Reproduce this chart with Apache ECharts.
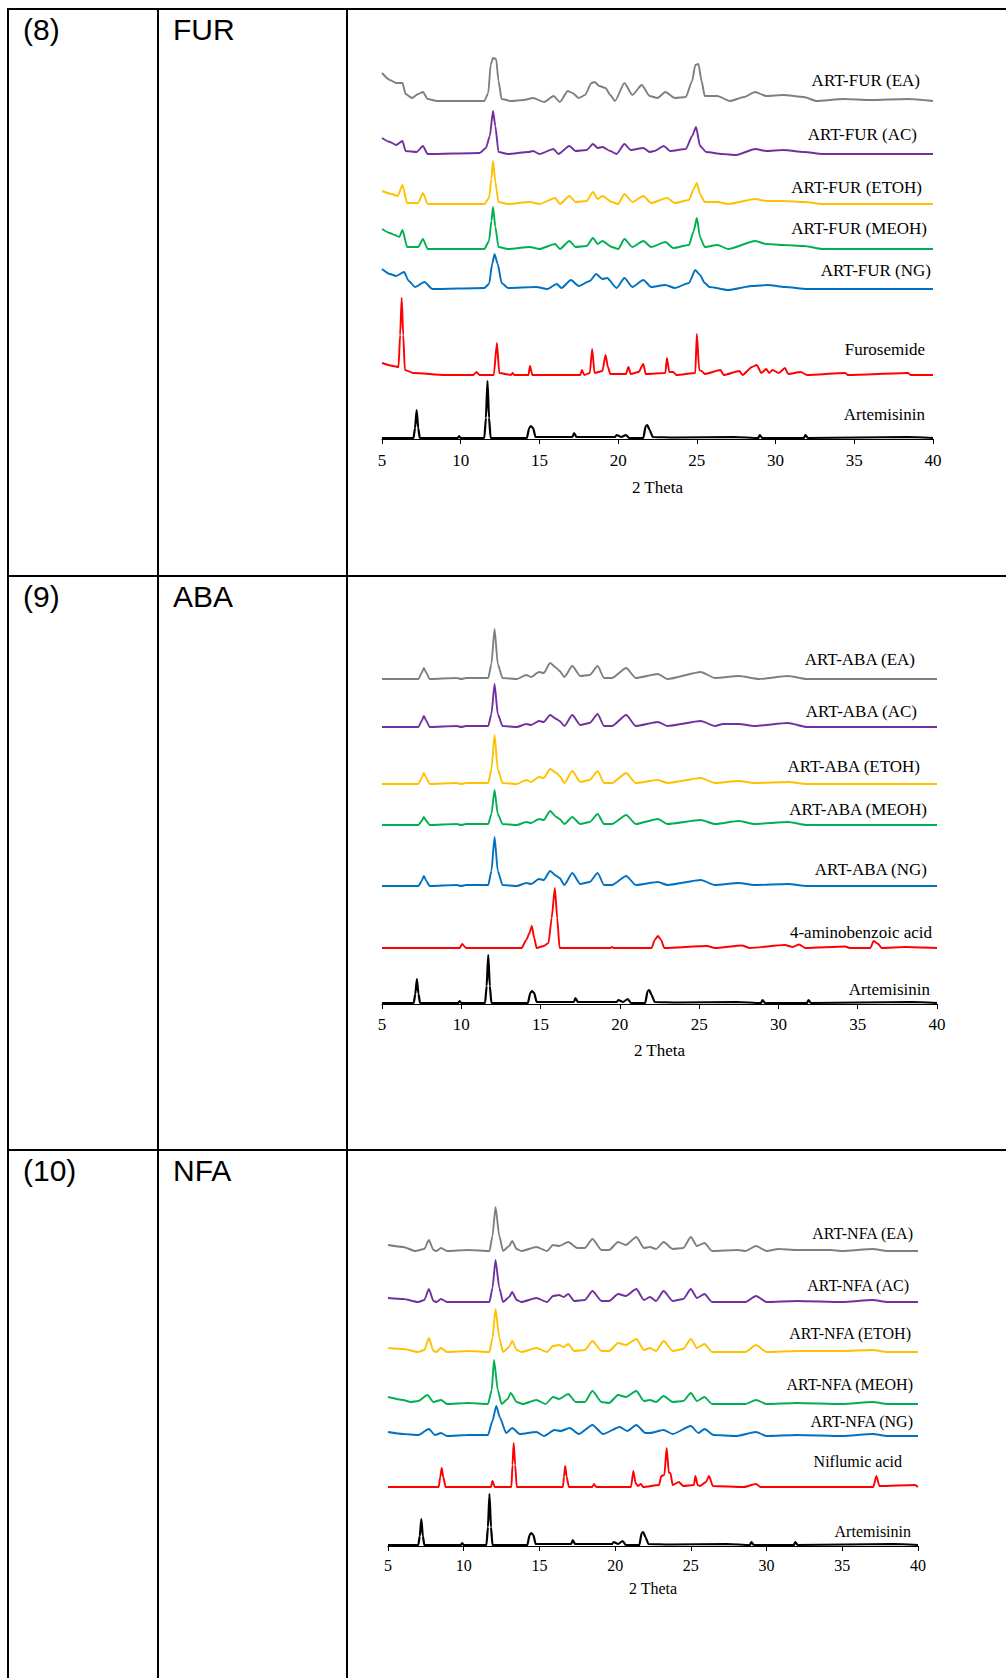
<!DOCTYPE html>
<html><head><meta charset="utf-8">
<script src="https://cdn.jsdelivr.net/npm/echarts@6/dist/echarts.min.js"></script>
<style>html,body{margin:0;padding:0;background:#fff}#c{width:1006px;height:1678px}</style>
</head><body><div id="c"></div>
<script>
// ---------- DATA: [2 theta, relative intensity] ----------
const xTicks = [5, 10, 15, 20, 25, 30, 35, 40];
const rowNumbers = ['(8)', '(9)', '(10)'];
const rowCodes = ['FUR', 'ABA', 'NFA'];

const furNames = ['ART-FUR (EA)', 'ART-FUR (AC)', 'ART-FUR (ETOH)', 'ART-FUR (MEOH)', 'ART-FUR (NG)', 'Furosemide', 'Artemisinin'];
const abaNames = ['ART-ABA (EA)', 'ART-ABA (AC)', 'ART-ABA (ETOH)', 'ART-ABA (MEOH)', 'ART-ABA (NG)', '4-aminobenzoic acid', 'Artemisinin'];
const nfaNames = ['ART-NFA (EA)', 'ART-NFA (AC)', 'ART-NFA (ETOH)', 'ART-NFA (MEOH)', 'ART-NFA (NG)', 'Niflumic acid', 'Artemisinin'];

const furEA = [[5,28],[5.5,21],[5.9,18],[6.3,18],[6.5,7],[6.9,3],[7.3,7],[7.6,9],[7.9,2],[8.5,0],[11.5,0],[11.75,8],[11.9,36],[12.05,43],[12.25,42],[12.4,20],[12.6,2],[13.2,0],[14,1],[14.6,3],[15.3,-1],[15.9,5],[16.3,-1],[16.8,10],[17.1,8],[17.5,3],[17.9,6],[18.3,18],[18.5,19],[18.8,15],[19.2,13],[19.5,6],[19.8,0],[20.4,18],[20.9,6],[21.5,16],[22.0,5],[22.5,3],[23.0,9],[23.6,3],[24.3,4],[24.7,20],[24.9,36],[25.1,37],[25.3,20],[25.5,5],[26.3,5],[27.1,0],[28.0,4],[28.7,9],[29.4,5],[30.5,6],[31.8,4],[32.6,0],[34.3,2],[36,1],[38.4,2],[40,0]];
const furAC = [[5,16],[5.5,12],[5.9,9],[6.3,13],[6.5,3],[7.2,2],[7.6,8],[7.9,0],[11.2,1],[11.6,6],[11.85,18],[12.05,43],[12.2,28],[12.4,2],[13,0],[14.3,2],[14.6,3],[15.0,0],[15.9,5],[16.2,0],[16.9,8],[17.3,3],[18.0,4],[18.4,10],[18.7,6],[19.0,7],[19.5,3],[19.9,0],[20.4,10],[20.8,4],[21.6,6],[22.0,2],[22.3,3],[22.9,8],[23.3,3],[24.3,5],[24.7,18],[24.95,27],[25.2,8],[25.6,2],[26.6,0],[27.5,-1],[28.7,5],[29.4,3],[30.5,4],[31.8,2],[33,0],[40,0]];
const furETOH = [[5,13],[5.6,10],[6.0,8],[6.3,19],[6.6,1],[7.3,1],[7.6,11],[7.9,0],[11.5,0],[11.8,6],[11.95,25],[12.05,43],[12.2,22],[12.4,2],[13,0],[14.4,2],[15,0],[16.0,6],[16.3,0],[16.9,8],[17.3,2],[18.0,3],[18.4,12],[18.7,5],[19.0,8],[19.6,2],[20.0,0],[20.4,10],[20.9,2],[21.6,8],[22.1,1],[23.1,6],[23.6,1],[24.5,4],[24.8,15],[25.0,21],[25.2,10],[25.5,2],[26.3,2],[27,0],[28.7,5],[29.4,3],[30.5,3],[31.8,2],[33,0],[40,0]];
const furMEOH = [[5,20],[5.5,16],[5.8,14],[6.1,12],[6.3,19],[6.6,2],[7.3,2],[7.6,10],[7.9,0],[11.5,0],[11.8,8],[11.95,28],[12.05,42],[12.2,22],[12.4,2],[13,0],[14.4,2],[15,0],[16.0,5],[16.3,0],[16.9,8],[17.3,2],[18.0,3],[18.4,11],[18.7,5],[19.0,8],[19.6,2],[20.0,0],[20.4,10],[20.9,2],[21.6,8],[22.1,2],[23.0,7],[23.5,1],[24.5,4],[24.8,18],[25.0,31],[25.2,12],[25.5,2],[26.3,4],[27,0],[28.7,8],[29.4,5],[30.5,4],[31.8,3],[33,0],[40,0]];
const furNG = [[5,20],[5.5,15],[5.9,13],[6.4,17],[6.7,8],[7.1,2],[7.7,7],[8.2,0],[11.5,1],[11.8,5],[12.0,25],[12.15,35],[12.35,25],[12.6,6],[13,1],[14.8,2],[15.5,0],[16.1,5],[16.4,1],[17.0,9],[17.5,3],[18.2,8],[18.6,15],[19.0,10],[19.3,11],[19.9,1],[20.4,11],[20.9,2],[21.6,9],[22.1,2],[23.0,4],[23.6,1],[24.5,6],[24.9,19],[25.2,14],[25.5,6],[25.8,2],[27.0,-1],[28.5,3],[29.5,4],[30.6,2],[32,0],[40,0]];
const furosemide = [[5,12],[5.7,9],[6.05,8],[6.15,40],[6.25,77],[6.35,40],[6.45,5],[7.0,2],[9,0],[10.8,0],[11.0,3],[11.2,0],[12.1,0],[12.3,32],[12.45,2],[13.2,0],[13.3,2],[13.4,0],[14.3,0],[14.4,9],[14.55,0],[17.6,0],[17.7,5],[17.85,0],[18.2,2],[18.35,26],[18.5,2],[19.0,4],[19.2,20],[19.35,8],[19.5,1],[20.5,1],[20.65,8],[20.8,1],[21.3,3],[21.6,11],[21.75,1],[23.0,2],[23.1,17],[23.25,3],[23.5,3],[23.7,0],[24.9,2],[25.0,41],[25.15,5],[25.3,4],[25.5,1],[26.5,5],[26.7,0],[27.7,4],[27.9,0],[28.5,8],[28.8,10],[29.1,2],[29.4,6],[29.6,2],[29.8,5],[30.2,2],[30.6,7],[30.8,1],[31.6,3],[32,0],[34.4,2],[34.6,0],[38.4,2],[38.6,0],[40,0]];
const artemisinin1 = [[5,0],[7.0,0],[7.1,10],[7.2,28],[7.3,10],[7.4,0],[9.8,0],[9.9,2],[10.0,0],[11.5,0],[11.6,20],[11.7,57],[11.8,20],[11.9,0],[14.2,0],[14.35,10],[14.45,12],[14.6,10],[14.75,1],[15.6,1],[16.6,1],[17.1,1],[17.2,5],[17.35,1],[18.2,1],[19.0,1],[19.8,1],[19.9,3],[20.2,1],[20.5,3],[20.7,0],[21.6,0],[21.75,12],[21.85,13],[22.0,8],[22.2,1],[23.6,0.5],[27.4,1],[28.9,0],[29.0,3],[29.15,0],[31.8,0],[31.9,3],[32.05,0],[38.4,1],[40,0]];

const abaEA = [[5,0],[7.3,0],[7.5,6],[7.64,11],[7.8,6],[8.0,0],[9.7,1],[10.0,0],[10.3,1],[11.7,1],[11.9,15],[12.1,50],[12.3,15],[12.6,1],[13.5,0],[14.1,4],[14.4,2],[14.9,7],[15.2,6],[15.6,16],[16.0,11],[16.2,8],[16.5,2],[17.0,13],[17.5,3],[18.1,4],[18.6,13],[19.0,1],[19.5,1],[20.4,11],[21.0,1],[22.4,5],[23.0,0],[25.1,7],[26.0,1],[27.5,3],[28.8,0],[30.6,3],[31.8,0],[40,0]];
const abaAC = [[5,0],[7.3,0],[7.5,6],[7.64,11],[7.8,6],[8.0,0],[9.7,1],[10.0,0],[10.3,1],[11.7,1],[11.9,13],[12.1,43],[12.3,13],[12.6,1],[13.5,0],[14.1,3],[14.4,2],[14.9,6],[15.2,5],[15.6,12],[16.0,8],[16.2,6],[16.5,1],[17.0,12],[17.5,2],[18.1,4],[18.6,13],[19.0,1],[19.5,1],[20.4,12],[21.0,1],[22.4,5],[23.0,1],[25.1,6],[26.0,1],[26.5,3],[27.5,3],[28.5,1],[30.6,4],[31.8,0],[40,0]];
const abaETOH = [[5,0],[7.3,0],[7.5,6],[7.64,11],[7.8,6],[8.0,0],[9.7,1],[10.0,0],[10.3,1],[11.7,1],[11.9,15],[12.1,49],[12.3,15],[12.6,1],[13.5,0],[14.1,4],[14.4,2],[14.9,7],[15.2,6],[15.6,15],[16.0,11],[16.2,8],[16.5,1],[17.0,13],[17.5,2],[18.1,4],[18.6,13],[19.0,1],[19.5,1],[20.4,11],[21.0,1],[22.4,4],[23.0,1],[25.1,6],[26.0,1],[27.5,3],[28.5,1],[30.6,2],[31.8,0],[40,0]];
const abaMEOH = [[5,0],[7.3,0],[7.5,4],[7.64,8],[7.8,4],[8.0,0],[9.7,1],[10.0,0],[10.3,1],[11.7,1],[11.9,11],[12.1,35],[12.3,11],[12.6,1],[13.5,0],[14.1,3],[14.4,2],[14.9,6],[15.2,5],[15.6,14],[16.0,8],[16.2,6],[16.5,1],[17.0,8],[17.5,1],[18.1,3],[18.6,11],[19.0,1],[19.5,1],[20.4,10],[21.0,1],[22.4,6],[23.0,1],[25.1,5],[26.0,1],[27.5,4],[28.5,1],[30.6,3],[31.8,0],[40,0]];
const abaNG = [[5,0],[7.3,0],[7.5,5],[7.64,10],[7.8,5],[8.0,0],[9.7,1],[10.0,0],[10.3,1],[11.7,1],[11.9,15],[12.1,49],[12.3,15],[12.6,1],[13.5,0],[14.1,3],[14.4,2],[14.9,7],[15.2,6],[15.6,15],[16.0,10],[16.2,8],[16.5,1],[17.0,13],[17.5,2],[18.1,4],[18.6,13],[19.0,1],[19.5,1],[20.4,10],[21.0,1],[22.4,4],[23.0,1],[25.1,6],[26.0,1],[27.5,3],[28.5,1],[30.6,2],[31.8,0],[40,0]];
const aminobenzoic = [[5,0],[9.9,0],[10.05,4],[10.3,0],[13.8,0],[14.1,8],[14.3,15],[14.45,22],[14.6,10],[14.75,0],[15.2,2],[15.5,5],[15.7,30],[15.9,60],[16.05,30],[16.2,0],[19.4,0],[19.5,1],[19.6,0],[22.0,0],[22.2,8],[22.4,12],[22.6,8],[22.8,0],[25.5,2],[26,0],[27.7,2.5],[28.2,0],[30.4,3],[30.9,1],[31.3,3.5],[31.7,0],[34.2,1.5],[34.5,0],[35.8,0],[36.0,7],[36.3,4],[36.5,0],[38.0,1],[40,0]];
const artemisinin2 = [[5,0],[7.0,0],[7.1,9],[7.2,24],[7.3,9],[7.4,0],[9.8,0],[9.9,2],[10.0,0],[11.5,0],[11.6,17],[11.7,48],[11.8,17],[11.9,0],[14.2,0],[14.35,10],[14.45,12],[14.6,10],[14.75,1],[15.6,1],[16.6,1],[17.1,1],[17.2,5],[17.35,1],[18.2,1],[19.0,1],[19.8,1],[19.9,3],[20.2,1],[20.5,4],[20.7,0],[21.6,0],[21.75,12],[21.85,13],[22.0,8],[22.2,1],[23.6,0.5],[27.4,1],[28.9,0],[29.0,3],[29.15,0],[31.8,0],[31.9,3],[32.05,0],[38.4,1],[40,0]];

const nfaEA = [[5,6],[6.0,4],[6.8,0],[7.4,2],[7.7,11],[8.0,1],[8.2,0],[8.5,3],[8.9,0],[10.3,1],[11.7,0],[11.9,15],[12.1,44],[12.35,15],[12.6,0],[13.0,5],[13.2,10],[13.5,2],[13.8,0],[14.8,4],[15.5,0],[15.9,6],[16.3,5],[16.9,9],[17.5,3],[18.0,3],[18.5,12],[19.1,1],[19.6,1],[20.2,9],[20.7,6],[21.4,14],[21.9,3],[22.3,4],[22.7,2],[23.2,9],[23.8,2],[24.5,3],[25.0,14],[25.4,5],[25.9,8],[26.4,0],[28.1,1],[28.6,0],[29.3,5],[30.0,0],[30.8,2],[32,1],[34.2,1],[35,0],[37.0,2],[38,0],[40,0]];
const nfaAC = [[5,4],[6.0,3],[7.0,0],[7.4,2],[7.7,13],[8.0,1],[8.2,0],[8.5,3],[8.9,0],[10.3,0],[11.7,0],[11.9,14],[12.1,42],[12.35,14],[12.6,0],[13.0,5],[13.2,10],[13.5,2],[13.8,0],[14.8,4],[15.5,0],[15.9,6],[16.3,7],[16.6,5],[16.9,8],[17.3,1],[18.0,2],[18.5,11],[19.1,1],[19.6,1],[20.2,8],[20.7,6],[21.4,13],[21.9,2],[22.3,5],[22.7,1],[23.2,11],[23.8,1],[24.5,3],[25.0,13],[25.4,4],[25.9,8],[26.4,0],[28.6,0],[29.3,6],[30.0,0],[32,1],[35,0],[37.0,2],[38,0],[40,0]];
const nfaETOH = [[5,4],[6.0,3],[7.0,0],[7.4,2],[7.7,14],[8.0,1],[8.2,0],[8.5,4],[8.9,0],[10.3,1],[11.7,0],[11.9,14],[12.1,43],[12.35,14],[12.6,0],[13.0,5],[13.2,11],[13.5,2],[13.8,0],[14.8,4],[15.5,0],[15.9,6],[16.3,7],[16.6,5],[16.9,8],[17.3,1],[18.0,2],[18.5,11],[19.1,1],[19.6,1],[20.2,9],[20.7,7],[21.4,13],[21.9,2],[22.3,4],[22.7,1],[23.2,11],[23.8,1],[24.5,3],[25.0,13],[25.4,4],[25.9,8],[26.4,0],[28.6,0],[29.3,7],[30.0,0],[32,1],[35,1],[37.0,2],[38,0],[40,0]];
const nfaMEOH = [[5,7],[6.0,4],[6.5,2],[7.0,3],[7.6,9],[8.0,2],[8.5,4],[8.9,0],[10.3,1],[11.6,0],[11.85,14],[12.0,44],[12.25,14],[12.5,0],[12.9,5],[13.1,11],[13.5,2],[13.9,0],[14.8,4],[15.4,0],[15.9,7],[16.3,5],[16.9,10],[17.4,2],[18.0,2],[18.5,13],[19.1,2],[19.6,1],[20.2,9],[20.7,7],[21.4,13],[21.9,3],[22.3,4],[22.7,2],[23.2,8],[23.8,2],[24.5,3],[25.0,11],[25.4,3],[25.9,7],[26.4,0],[28.6,0],[29.3,4],[30.0,0],[32,1],[35,0],[37.0,2],[38,0],[40,0]];
const nfaNG = [[5,4],[6.0,2],[7.0,1],[7.7,7],[8.1,1],[8.5,3],[8.9,0],[10.3,1],[11.6,1],[11.9,15],[12.15,30],[12.4,18],[12.8,3],[13.2,8],[13.7,2],[14.8,4],[15.3,0],[16.0,6],[16.4,5],[17.0,8],[17.6,2],[18.5,11],[19.2,2],[20.3,9],[20.8,5],[21.4,11],[22.0,3],[22.3,3],[23.2,6],[23.8,2],[25.0,10],[25.5,3],[25.9,7],[26.5,1],[28,0],[29.3,4],[30.0,0],[32,1],[35,0],[37.0,2],[38,0],[40,0]];
const niflumic = [[5,0],[8.35,0],[8.45,10],[8.55,19],[8.65,10],[8.8,0],[11.8,0],[11.9,6],[12.05,0],[13.15,0],[13.22,22],[13.3,44],[13.4,22],[13.5,0],[16.55,0],[16.62,10],[16.7,21],[16.8,10],[16.95,0],[18.5,0],[18.6,3],[18.75,0],[21.05,0],[21.2,16],[21.35,4],[21.5,1],[21.7,3],[21.85,0],[22.9,2],[23.05,11],[23.25,12],[23.4,39],[23.55,14],[23.65,14],[23.8,2],[24.2,5],[24.5,1],[25.2,2],[25.3,11],[25.45,2],[25.6,1],[26.0,5],[26.2,11],[26.45,1],[28.5,0],[29.3,3],[29.6,0],[37.05,0],[37.25,11],[37.45,1],[39.8,2],[40,0]];
const artemisinin3 = [[5,0],[7.0,0],[7.1,9],[7.2,26],[7.3,9],[7.4,0],[9.8,0],[9.9,2],[10.0,0],[11.5,0],[11.6,18],[11.7,51],[11.8,18],[11.9,0],[14.2,0],[14.35,10],[14.45,12],[14.6,10],[14.75,1],[15.6,1],[16.6,1],[17.1,1],[17.2,5],[17.35,1],[18.2,1],[19.0,1],[19.8,1],[19.9,3],[20.2,1],[20.5,4],[20.7,0],[21.6,0],[21.75,12],[21.85,13],[22.0,8],[22.2,1],[23.6,0.5],[27.4,1],[28.9,0],[29.0,3],[29.15,0],[31.8,0],[31.9,3],[32.05,0],[38.4,1],[40,0]];

// ---------- LAYOUT / STYLE ----------
const traceColors = ['#7F7F7F', '#7030A0', '#FFC000', '#00B050', '#0070C0', '#FF0000', '#000000'];
const SERIF = '"Liberation Serif", "Times New Roman", serif';
const SANS = '"Liberation Sans", Arial, sans-serif';

const panels = [
  { grid: { left: 382, top: 49, width: 551, height: 390 }, H: 390,
    traces: [furEA, furAC, furETOH, furMEOH, furNG, furosemide, artemisinin1], names: furNames,
    offsets: [338, 285, 235, 190, 150, 64, 1],
    labelPos: [[920, 80], [917, 134], [922, 187], [927, 228], [931, 270], [925, 349], [925, 414]],
    fs: 17, margin: 13, nameGap: 40 },
  { grid: { left: 382, top: 614, width: 555, height: 390 }, H: 390,
    traces: [abaEA, abaAC, abaETOH, abaMEOH, abaNG, aminobenzoic, artemisinin2], names: abaNames,
    offsets: [325, 277, 220, 179, 118, 56, 1],
    labelPos: [[915, 659], [917, 711], [920, 766], [927, 809], [927, 869], [932, 932], [930, 989]],
    fs: 17, margin: 12, nameGap: 38 },
  { grid: { left: 388, top: 1186, width: 530, height: 360 }, H: 360,
    traces: [nfaEA, nfaAC, nfaETOH, nfaMEOH, nfaNG, niflumic, artemisinin3], names: nfaNames,
    offsets: [295, 244, 194, 142, 110, 59, 1],
    labelPos: [[913, 1233], [909, 1285], [911, 1333], [913, 1384], [913, 1421], [902, 1461], [911, 1531]],
    fs: 16, margin: 11, nameGap: 34 }
];

const rowTops = [9, 576, 1150];

const grids = [], xAxes = [], yAxes = [], series = [], graphics = [];
panels.forEach((p, i) => {
  grids.push(Object.assign({ containLabel: false }, p.grid));
  xAxes.push({
    type: 'value', gridIndex: i, min: xTicks[0], max: xTicks[xTicks.length - 1], interval: xTicks[1] - xTicks[0],
    axisLine: { show: true, onZero: false, lineStyle: { color: '#000', width: 1.2 } },
    axisTick: { show: true, inside: false, length: 5, lineStyle: { color: '#000' } },
    axisLabel: { color: '#000', fontFamily: SERIF, fontSize: p.fs, margin: p.margin },
    splitLine: { show: false },
    name: '2 Theta', nameLocation: 'middle', nameGap: p.nameGap,
    nameTextStyle: { color: '#000', fontFamily: SERIF, fontSize: p.fs }
  });
  yAxes.push({ type: 'value', gridIndex: i, min: 0, max: p.H, show: false });
  p.traces.forEach((tr, k) => {
    series.push({
      type: 'line', name: p.names[k], xAxisIndex: i, yAxisIndex: i,
      data: tr.map(d => [d[0], d[1] + p.offsets[k]]),
      showSymbol: false, symbol: 'none', silent: true, clip: false,
      smooth: 0.2, smoothMonotone: 'x',
      lineStyle: { color: traceColors[k], width: k === 6 ? 2.2 : 1.9 },
      z: 2
    });
    graphics.push({
      type: 'text', x: p.labelPos[k][0], y: p.labelPos[k][1], silent: true,
      style: { text: p.names[k], fill: '#000', font: p.fs + 'px ' + SERIF,
        align: 'right', textAlign: 'right', verticalAlign: 'middle', textVerticalAlign: 'middle' }
    });
  });
});

// table borders
const bw = 2;
graphics.push({ type: 'line', silent: true, shape: { x1: 7, y1: 9, x2: 1006, y2: 9 }, style: { stroke: '#000', lineWidth: bw } });
rowTops.slice(1).forEach(y => graphics.push({ type: 'line', silent: true, shape: { x1: 7, y1: y, x2: 1006, y2: y }, style: { stroke: '#000', lineWidth: bw } }));
[8, 158, 347].forEach(x => graphics.push({ type: 'line', silent: true, shape: { x1: x, y1: 8, x2: x, y2: 1678 }, style: { stroke: '#000', lineWidth: bw } }));
rowTops.forEach((y, r) => {
  graphics.push({ type: 'text', x: 23, y: y + 20, silent: true,
    style: { text: rowNumbers[r], fill: '#000', font: '30px ' + SANS, align: 'left', textAlign: 'left', verticalAlign: 'middle', textVerticalAlign: 'middle' } });
  graphics.push({ type: 'text', x: 173, y: y + 20, silent: true,
    style: { text: rowCodes[r], fill: '#000', font: '30px ' + SANS, align: 'left', textAlign: 'left', verticalAlign: 'middle', textVerticalAlign: 'middle' } });
});

const chart = echarts.init(document.getElementById('c'), null, { renderer: 'svg' });
chart.setOption({
  animation: false,
  backgroundColor: '#fff',
  grid: grids, xAxis: xAxes, yAxis: yAxes, series: series,
  graphic: { elements: graphics }
});
</script>
</body></html>
